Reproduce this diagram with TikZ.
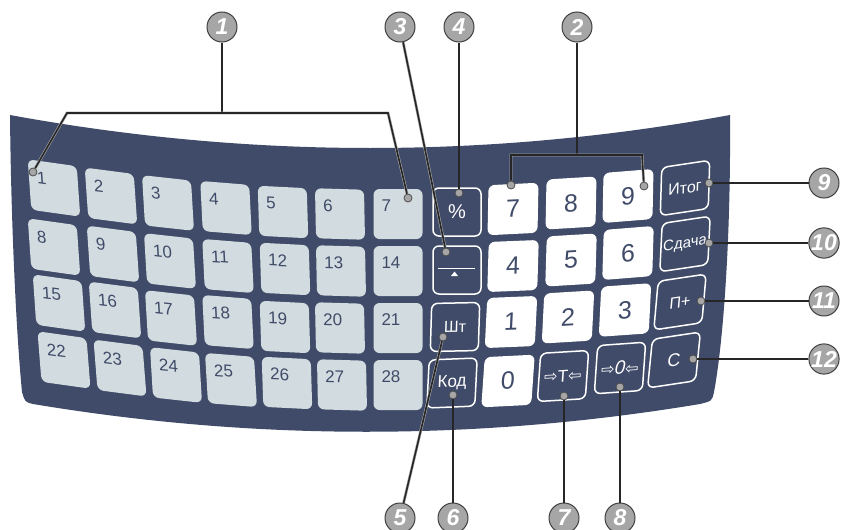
\documentclass[tikz,border=0pt]{standalone}
\usepackage{fontspec}
\setmainfont{Liberation Sans}
\newfontfamily\arrowfont{DejaVu Sans}
\definecolor{panelblue}{HTML}{3F4B68}
\definecolor{keygray}{HTML}{D2DCE0}
\definecolor{calloutgray}{HTML}{A6A6A6}
\tikzset{
  x=1pt, y=-1pt, % pixel units, y runs down as in the drawing
  pad/.style={fill=keygray, rounded corners=6pt, text width=33pt,
    align=left, text height=12.5pt, text depth=17.5pt, inner xsep=8pt,
    inner ysep=10pt, text=panelblue, font=\fontsize{17}{17}\selectfont}, % the 28 grey keys
  numkey/.style={fill=white, rounded corners=6pt, minimum width=50pt,
    minimum height=50pt, inner sep=0pt, text=panelblue,
    font=\fontsize{25}{25}\selectfont}, % white digit keys
  fnkey/.style={draw=white, line width=1.5pt, fill=panelblue,
    rounded corners=6pt, minimum width=48pt, minimum height=48pt,
    inner sep=0pt, text=white, font=\fontsize{16}{16}\selectfont}, % outlined keys
}
\newcommand{\pusharrow}[1]{{\arrowfont\fontsize{16}{16}\selectfont #1}}

\begin{document}
\begin{tikzpicture}[
    callout/.style = {circle, draw=black!75, line width=1pt, fill=calloutgray,
      minimum size=30pt, inner sep=0pt, text=white,
      font=\fontsize{23}{23}\selectfont\bfseries\itshape},
    pin_dot/.style = {circle, draw=black!70, line width=0.8pt, fill=calloutgray,
      minimum size=8pt, inner sep=0pt},
    leader/.style = {draw=gray!70, double=black!85, double distance=1.6pt,
      line width=0.6pt}]
    \useasboundingbox (0,0) rectangle (841,530);

    \fill[panelblue] (10,115) .. controls (250,159) and (490,159) .. (730,115)
      .. controls (731,250) and (722,350) .. (714,392)
      .. controls (712,401) .. (700,404)
      .. controls (477,441) and (255,441) .. (33,404)
      .. controls (25,402) .. (22,392)
      .. controls (16,330) and (11,220) .. cycle;

    \foreach \n/\x/\y/\ys/\xs in {
      1/54/188/-.14/-.07, 2/111/196/-.13/-.07, 3/168/203/-.11/-.06,
      4/226/208/-.08/-.05, 5/283/212/-.05/-.03, 6/340/214/-.03/-.02, 7/398/214/0/0,
      8/54/247/-.14/-.07, 9/113/254/-.13/-.07, 10/170/261/-.11/-.06,
      11/228/266/-.08/-.05, 12/285/269/-.05/-.03, 13/341/271/-.03/-.02, 14/398/271/0/0,
      15/59/303/-.14/-.07, 16/115/310/-.13/-.07, 17/171/318/-.11/-.06,
      18/228/322/-.08/-.05, 19/285/327/-.05/-.03, 20/340/328/-.03/-.02, 21/398/328/0/0,
      22/64/360/-.14/-.08, 23/120/368/-.13/-.08, 24/176/375/-.11/-.06,
      25/231/380/-.08/-.06, 26/287/383/-.05/-.03, 27/342/385/-.03/-.02, 28/398/385/0/0}
      \node[pad, yslant=\ys, xslant=\xs] (key_\n) at (\x,\y) {\n};

    \foreach \n/\x/\y/\ys/\xs in {
      7/513/209/.05/.02, 8/571/203/.06/.02, 9/628/196/.08/.02,
      4/513/266/.04/.03, 5/571/260/.06/.03, 6/628/253/.08/.03,
      1/511/322/.04/.05, 2/568/317/.06/.05, 3/625/310/.07/.05,
      0/508/381/.05/.07}
      \node[numkey, yslant=\ys, xslant=\xs] (num_\n) at (\x,\y) {\n};

    \node[fnkey, font=\fontsize{20}{20}\selectfont] (fn_percent) at (457,212) {\%};
    \node[fnkey] (fn_weigh) at (457,270) {};
    \node[fnkey, yslant=.02, xslant=.03] (fn_pcs) at (455,327) {Шт};
    \node[fnkey, yslant=.04, xslant=.05, font=\fontsize{17}{17}\selectfont] (fn_code) at (452,383) {Код};
    \node[fnkey, yslant=.06, xslant=.07, font=\fontsize{17}{17}\selectfont] (fn_tare) at (563,376)
      {\pusharrow{⇨}T\pusharrow{⇦}};
    \node[fnkey, yslant=.07, xslant=.07, font=\fontsize{19}{19}\selectfont] (fn_zero) at (620,368)
      {\pusharrow{⇨}\textit{0}\pusharrow{⇦}};
    \node[fnkey, yslant=.15, xslant=.03] (fn_total) at (685,188) {Итог};
    \node[fnkey, yslant=.15, xslant=.05, font=\fontsize{15}{15}\selectfont] (fn_change) at (685,244) {Сдача};
    \node[fnkey, yslant=.15, xslant=.09] (fn_plus) at (680,302) {П+};
    \node[fnkey, yslant=.15, xslant=.1, font=\fontsize{18}{18}\selectfont] (fn_clear) at (674,360) {С};

    \draw[white, line width=1pt] ([shift={(-19,-2)}]fn_weigh.center) -- ([shift={(18,-2)}]fn_weigh.center);
    \fill[white] ([shift={(-6,6)}]fn_weigh.center) -- ([shift={(1,6)}]fn_weigh.center)
      -- ([shift={(-2.5,1.5)}]fn_weigh.center) -- cycle;

    \node[pin_dot] (dot_1a) at (33,172) {};
    \node[pin_dot] (dot_1b) at (408,198) {};
    \node[pin_dot] (dot_2a) at (511,185) {};
    \node[pin_dot] (dot_2b) at (644,186) {};
    \node[pin_dot] (dot_3) at (446,252) {};
    \node[pin_dot] (dot_4) at (459,193) {};
    \node[pin_dot] (dot_5) at (443,337) {};
    \node[pin_dot] (dot_6) at (453,395) {};
    \node[pin_dot] (dot_7) at (564,396) {};
    \node[pin_dot] (dot_8) at (620,387) {};
    \node[pin_dot] (dot_9) at (709,183) {};
    \node[pin_dot] (dot_10) at (709,243) {};
    \node[pin_dot] (dot_11) at (701,301) {};
    \node[pin_dot] (dot_12) at (693,359) {};

    \node[callout] (call_1) at (222,27) {1};
    \node[callout] (call_2) at (577,27) {2};
    \node[callout] (call_3) at (400,27) {3};
    \node[callout] (call_4) at (459,27) {4};
    \node[callout] (call_5) at (400,518) {5};
    \node[callout] (call_6) at (453,518) {6};
    \node[callout] (call_7) at (564,518) {7};
    \node[callout] (call_8) at (620,518) {8};
    \node[callout] (call_9) at (824,183) {9};
    \node[callout] (call_10) at (824,243) {10};
    \node[callout] (call_11) at (824,301) {11};
    \node[callout] (call_12) at (824,359) {12};

    \coordinate (brace_1l) at (67,113);
    \coordinate (brace_1r) at (388,113);
    \coordinate (brace_2l) at (511,155);
    \coordinate (brace_2r) at (642,155);

    \draw[leader] (call_1) -- (call_1 |- brace_1l);
    \draw[leader] (dot_1a) -- (brace_1l) -- (brace_1r) -- (dot_1b);
    \draw[leader] (call_2) -- (call_2 |- brace_2l);
    \draw[leader] (dot_2a) -- (brace_2l) -- (brace_2r) -- (dot_2b);
    \draw[leader] (call_3) -- (dot_3);
    \draw[leader] (call_4) -- (dot_4);
    \draw[leader] (call_5) -- (dot_5);
    \draw[leader] (call_6) -- (dot_6);
    \draw[leader] (call_7) -- (dot_7);
    \draw[leader] (call_8) -- (dot_8);
    \draw[leader] (call_9) -- (dot_9);
    \draw[leader] (call_10) -- (dot_10);
    \draw[leader] (call_11) -- (dot_11);
    \draw[leader] (call_12) -- (dot_12);
\end{tikzpicture}
\end{document}
